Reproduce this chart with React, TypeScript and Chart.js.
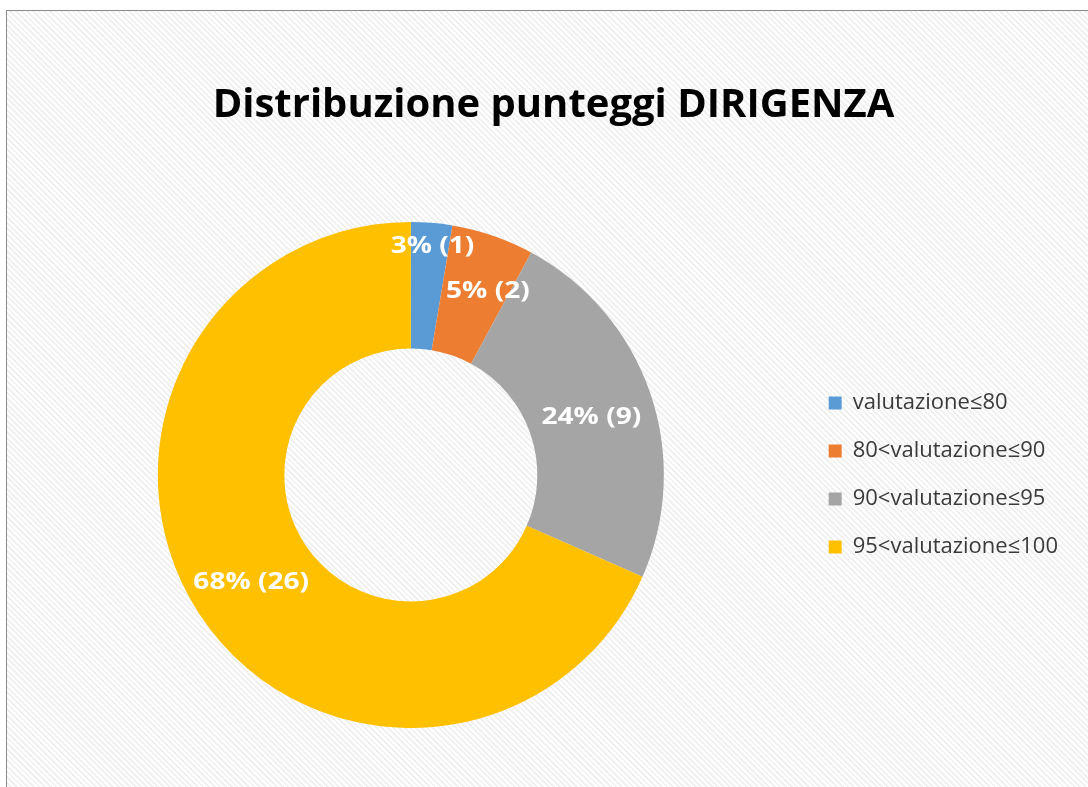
import { useEffect, useRef } from 'react';
import { Chart, registerables } from 'chart.js';

Chart.register(...registerables);

const TITLE = 'Distribuzione punteggi DIRIGENZA';
const CATEGORIES = ['valutazione≤80', '80<valutazione≤90', '90<valutazione≤95', '95<valutazione≤100'];
const COUNTS = [1, 2, 9, 26];
const COLORS = ['#5B9BD5', '#ED7D31', '#A5A5A5', '#FFC000'];
// label placement inside each slice: fraction of the slice's sweep, fraction of outer radius
const LABEL_ANGLE_FRAC = [0.57, 0.7, 0.515, 0.497];
const LABEL_RADIUS_FRAC = [0.909, 0.788, 0.749, 0.76];

const arcLabels = {
  id: 'arcLabels',
  afterDatasetsDraw(chart: any) {
    const meta = chart.getDatasetMeta(0);
    const ctx = chart.ctx;
    const total = COUNTS.reduce((a, b) => a + b, 0);
    meta.data.forEach((arc: any, i: number) => {
      const p = arc.getProps(['x', 'y', 'startAngle', 'endAngle', 'outerRadius'], true);
      const a = p.startAngle + (p.endAngle - p.startAngle) * LABEL_ANGLE_FRAC[i];
      const r = p.outerRadius * LABEL_RADIUS_FRAC[i];
      const px = p.x + Math.cos(a) * r;
      const py = p.y + Math.sin(a) * r;
      const text = `${Math.round((COUNTS[i] / total) * 100)}% (${COUNTS[i]})`;
      ctx.save();
      ctx.translate(px, py);
      ctx.scale(1.22, 1);
      ctx.font = 'bold 23px "Open Sans"';
      ctx.fillStyle = '#ffffff';
      ctx.textAlign = 'center';
      ctx.textBaseline = 'middle';
      ctx.fillText(text, 0, 0);
      ctx.restore();
    });
  },
};

export default function App() {
  const ref = useRef<HTMLCanvasElement | null>(null);

  useEffect(() => {
    if (!ref.current) return;
    const chart = new Chart(ref.current, {
      type: 'doughnut',
      data: {
        labels: CATEGORIES,
        datasets: [
          {
            data: COUNTS,
            backgroundColor: COLORS,
            borderWidth: 0,
          },
        ],
      },
      options: {
        responsive: false,
        animation: false,
        cutout: '50%',
        events: [],
        layout: { padding: { left: 12, right: 0, top: 0, bottom: 59 } },
        plugins: {
          tooltip: { enabled: false },
          title: {
            display: true,
            text: TITLE,
            color: '#000000',
            font: { family: '"Open Sans"', size: 40, weight: 'bold' },
            padding: { top: 71, bottom: 92 },
          },
          subtitle: {
            display: true,
            position: 'right',
            fullSize: false,
            text: '',
            font: { size: 10 },
            padding: { top: 0, bottom: 8 },
          },
          legend: {
            display: true,
            position: 'right',
            fullSize: false,
            align: 'center',
            labels: {
              color: '#3a3a3a',
              font: { family: '"Open Sans"', size: 22 },
              boxWidth: 13,
              boxHeight: 13,
              padding: 26,
            },
          },
        },
      },
      plugins: [arcLabels],
    });
    return () => chart.destroy();
  }, []);

  return (
    <div
      style={{
        position: 'fixed',
        left: 6,
        top: 10,
        width: 1081,
        height: 776,
        borderLeft: '1px solid #8a8a8a',
        borderTop: '1px solid #8a8a8a',
        background:
          'repeating-linear-gradient(45deg, #ffffff 0px, #ffffff 2px, #f1f1f1 2px, #f1f1f1 4px)',
      }}
    >
      <canvas ref={ref} width={1081} height={776} style={{ display: 'block' }} />
    </div>
  );
}
